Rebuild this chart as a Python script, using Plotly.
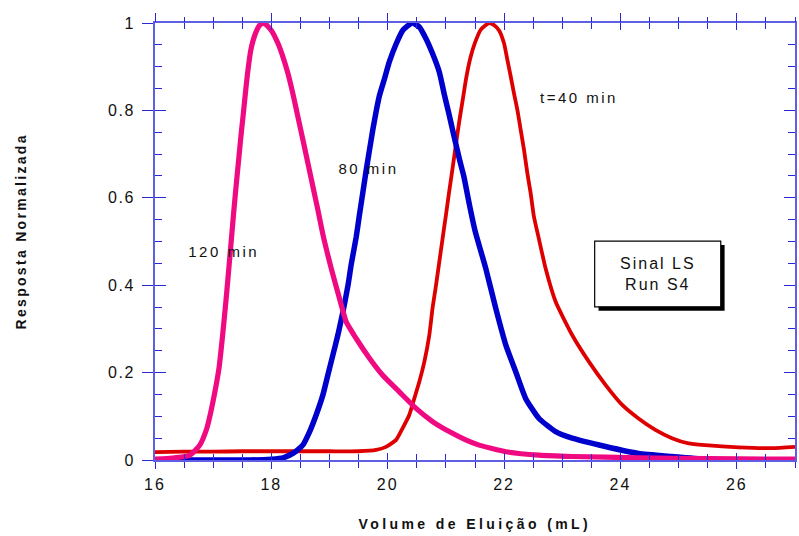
import plotly.graph_objects as go

# ---- data (Volume de Eluição, mL ; normalized response) ----
vol_40 = [16.0, 16.5, 17.0, 17.5, 18.0, 18.5, 19.0, 19.5, 19.8, 19.97, 20.144, 20.257, 20.37,
          20.457, 20.543, 20.63, 20.715, 20.77, 20.83, 20.886, 20.943, 21.0, 21.057, 21.115,
          21.17, 21.23, 21.29, 21.35, 21.42, 21.5, 21.6, 21.743, 21.83, 21.914, 22.0, 22.057,
          22.115, 22.17, 22.23, 22.286, 22.343, 22.4, 22.457, 22.514, 22.6, 22.714, 22.886,
          23.17, 23.457, 23.743, 24.03, 24.31, 24.6, 24.886, 25.17, 25.457, 26.03, 26.6, 27.0]
resp_40 = [0.018, 0.019, 0.019, 0.020, 0.020, 0.020, 0.020, 0.020, 0.023, 0.030, 0.046, 0.073,
           0.103, 0.141, 0.179, 0.225, 0.286, 0.347, 0.400, 0.453, 0.507, 0.560, 0.615, 0.668,
           0.720, 0.775, 0.825, 0.875, 0.920, 0.955, 0.985, 1.000, 0.995, 0.983, 0.953, 0.915,
           0.877, 0.839, 0.800, 0.755, 0.709, 0.656, 0.610, 0.556, 0.505, 0.438, 0.362, 0.286,
           0.225, 0.172, 0.126, 0.095, 0.069, 0.050, 0.038, 0.034, 0.029, 0.027, 0.030]

vol_80 = [16.0, 16.5, 17.0, 17.63, 18.0, 18.2, 18.37, 18.54, 18.658, 18.77, 18.886, 18.97,
          19.057, 19.143, 19.23, 19.315, 19.372, 19.458, 19.515, 19.57, 19.63, 19.686, 19.743,
          19.8, 19.858, 19.943, 20.03, 20.144, 20.257, 20.418, 20.543, 20.658, 20.77, 20.886,
          20.97, 21.057, 21.143, 21.229, 21.31, 21.4, 21.5, 21.686, 21.857, 22.03, 22.2, 22.37,
          22.6, 22.886, 23.17, 23.743, 24.31, 24.886, 25.457, 26.3, 27.0]
resp_80 = [0.0, 0.0, 0.0, 0.0, 0.002, 0.005, 0.015, 0.034, 0.065, 0.103, 0.149, 0.194, 0.240,
           0.286, 0.339, 0.398, 0.447, 0.510, 0.562, 0.610, 0.663, 0.709, 0.755, 0.797, 0.834,
           0.872, 0.912, 0.952, 0.983, 1.000, 0.991, 0.964, 0.930, 0.888, 0.838, 0.789, 0.739,
           0.690, 0.648, 0.587, 0.525, 0.438, 0.347, 0.263, 0.202, 0.141, 0.095, 0.065, 0.050,
           0.031, 0.015, 0.008, 0.002, 0.0, 0.0]

vol_120 = [16.0, 16.2, 16.4, 16.6, 16.77, 16.89, 16.96, 17.03, 17.1, 17.155, 17.22, 17.27,
           17.316, 17.36, 17.4, 17.44, 17.48, 17.52, 17.556, 17.59, 17.647, 17.715, 17.8,
           17.875, 18.0, 18.115, 18.2, 18.286, 18.37, 18.457, 18.543, 18.63, 18.715, 18.8,
           18.886, 19.03, 19.17, 19.287, 19.458, 19.686, 19.914, 20.2, 20.487, 20.77, 21.057,
           21.34, 21.57, 22.03, 22.6, 23.17, 24.31, 25.5, 26.6, 27.0]
resp_120 = [0.002, 0.003, 0.006, 0.011, 0.034, 0.072, 0.110, 0.156, 0.210, 0.276, 0.365, 0.440,
            0.510, 0.578, 0.635, 0.690, 0.745, 0.795, 0.842, 0.884, 0.938, 0.972, 0.995, 1.000,
            0.983, 0.953, 0.922, 0.884, 0.838, 0.785, 0.732, 0.678, 0.625, 0.572, 0.516, 0.438,
            0.370, 0.316, 0.278, 0.233, 0.194, 0.156, 0.118, 0.088, 0.065, 0.046, 0.034, 0.019,
            0.011, 0.008, 0.005, 0.003, 0.002, 0.002]

labels = ["t=40 min", "80 min", "120 min"]
label_pos_x = [23.285, 19.67, 17.17]
label_pos_y = [0.830, 0.667, 0.476]

FONT = "Arial, Liberation Sans, sans-serif"
AXIS_LINE = "rgb(95,95,230)"
TICK = "rgb(40,40,215)"

fig = go.Figure()
fig.add_trace(go.Scatter(x=vol_40, y=resp_40, mode="lines",
                         line=dict(color="rgb(222,0,0)", width=3.8, shape="spline", smoothing=0.5),
                         name="40 min"))
fig.add_trace(go.Scatter(x=vol_80, y=resp_80, mode="lines",
                         line=dict(color="rgb(0,0,205)", width=5.5, shape="spline", smoothing=0.5),
                         name="80 min"))
fig.add_trace(go.Scatter(x=vol_120, y=resp_120, mode="lines",
                         line=dict(color="rgb(240,10,130)", width=5.2, shape="spline", smoothing=0.5),
                         name="120 min"))
# empty traces so that the overlay axes (extra tick sets) are drawn
fig.add_trace(go.Scatter(x=[], y=[], xaxis="x2", yaxis="y2", showlegend=False, hoverinfo="skip"))
fig.add_trace(go.Scatter(x=[], y=[], xaxis="x3", yaxis="y2", showlegend=False, hoverinfo="skip"))

fig.update_layout(
    width=799, height=536,
    margin=dict(l=155, r=2, t=23, b=76),
    plot_bgcolor="white", paper_bgcolor="white",
    showlegend=False,
    font=dict(family=FONT, color="#111111"),
    xaxis=dict(range=[16, 27], tick0=16, dtick=2, ticks="outside", ticklen=7, tickwidth=1.3,
               tickcolor=TICK, minor=dict(dtick=0.5, ticks="outside", ticklen=6, tickcolor=TICK, tickwidth=1.3),
               showline=True, linecolor=AXIS_LINE, linewidth=2, mirror=True,
               showgrid=False, zeroline=False, tickfont=dict(size=16, family=FONT, color="#111"),
               ticklabelstandoff=2, fixedrange=True),
    yaxis=dict(range=[0, 1], tick0=0, dtick=0.2, ticks="outside", ticklen=11, tickwidth=1.3,
               tickcolor=TICK, showline=True, linecolor=AXIS_LINE, linewidth=2, mirror=True,
               showgrid=False, zeroline=False, tickfont=dict(size=16, family=FONT, color="#111"),
               ticklabelstandoff=4, fixedrange=True),
    xaxis2=dict(range=[16, 27], overlaying="x", anchor="y2", side="bottom", tick0=16, dtick=2,
                ticks="inside", ticklen=7, tickwidth=1.3, tickcolor=TICK,
                minor=dict(dtick=0.5, ticks="inside", ticklen=6, tickcolor=TICK, tickwidth=1.3),
                showticklabels=False, showline=False, mirror="ticks", showgrid=False,
                zeroline=False, fixedrange=True),
    xaxis3=dict(range=[16, 27], overlaying="x", anchor="y2", side="top", tick0=16, dtick=2,
                ticks="outside", ticklen=9, tickwidth=1.3, tickcolor=TICK,
                minor=dict(dtick=0.5, ticks="outside", ticklen=5, tickcolor=TICK, tickwidth=1.3),
                showticklabels=False, showline=False, showgrid=False,
                zeroline=False, fixedrange=True),
    yaxis2=dict(range=[0, 1], overlaying="y", anchor="x2", side="left", tick0=0, dtick=0.2,
                ticks="inside", ticklen=11, tickwidth=1.3, tickcolor=TICK,
                minor=dict(dtick=0.05, ticks="inside", ticklen=7, tickcolor=TICK, tickwidth=1.3),
                showticklabels=False, showline=False, mirror="ticks", showgrid=False,
                zeroline=False, fixedrange=True),
)

# curve labels
for txt, lx, ly in zip(labels, label_pos_x, label_pos_y):
    fig.add_annotation(x=lx, y=ly, xref="x", yref="y", text=txt, showarrow=False,
                       xanchor="center", yanchor="middle",
                       font=dict(size=15, family=FONT, color="#111"))

# axis titles
fig.add_annotation(x=0.5, y=-0.1464, xref="paper", yref="paper", text="<b>Volume de Eluição (mL)</b>",
                   xanchor="center", yanchor="middle",
                   showarrow=False, font=dict(size=14, family=FONT, color="#111"))
fig.add_annotation(x=-0.2087, y=0.524, xref="paper", yref="paper", text="<b>Resposta Normalizada</b>",
                   xanchor="center", yanchor="middle",
                   textangle=-90, showarrow=False, font=dict(size=14, family=FONT, color="#111"))

# "Sinal LS / Run S4" box with shadow
bx0, bx1, by0, by1 = 0.687, 0.884, 0.3506, 0.5008
fig.add_shape(type="rect", xref="paper", yref="paper", x0=bx0 + 0.006, x1=bx1 + 0.006,
              y0=by0 - 0.009, y1=by1 - 0.009, fillcolor="black", line=dict(width=0), layer="above")
fig.add_shape(type="rect", xref="paper", yref="paper", x0=bx0, x1=bx1, y0=by0, y1=by1,
              fillcolor="white", line=dict(color="black", width=1.2), layer="above")
fig.add_annotation(x=(bx0 + bx1) / 2, y=(by0 + by1) / 2, xref="paper", yref="paper",
                   text="Sinal LS<br>Run S4", showarrow=False, align="center",
                   xanchor="center", yanchor="middle",
                   font=dict(size=16, family=FONT, color="#111"))

# widen the letter spacing of texts, as in the original figure
post = """
var gd = document.getElementById('{plot_id}');
function sp(sel, v) { gd.querySelectorAll(sel).forEach(function (e) { e.style.letterSpacing = v; }); }
function applySpacing() {
  sp('.xtick text', '2px');
  sp('.ytick text', '1.5px');
  sp('.annotation[data-index="0"] text', '2.5px');
  sp('.annotation[data-index="1"] text', '2.5px');
  sp('.annotation[data-index="2"] text', '2.5px');
  sp('.annotation[data-index="3"] text', '3.4px');
  sp('.annotation[data-index="4"] text', '2.3px');
  sp('.annotation[data-index="5"] text', '2px');
}
applySpacing();
setTimeout(applySpacing, 0);
if (gd.on) { gd.on('plotly_afterplot', applySpacing); }
"""

fig.write_html("out.html", post_script=post)
